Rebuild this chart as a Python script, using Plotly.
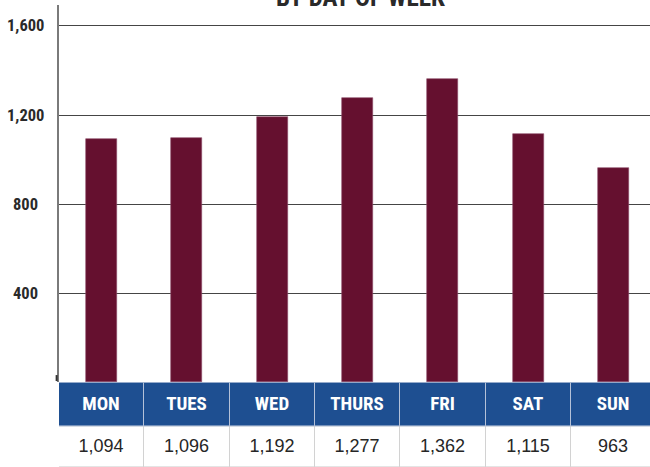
import plotly.graph_objects as go

# data
days = ["MON", "TUES", "WED", "THURS", "FRI", "SAT", "SUN"]
counts = [1094, 1096, 1192, 1277, 1362, 1115, 963]
ytick_vals = [400, 800, 1200, 1600]
title_text = "BY DAY OF WEEK"

condensed = "Roboto Condensed, Open Sans Condensed, sans-serif"
bar_col = "#65102f"
band_col = "#1e4f91"

fig = go.Figure()

# main bars
fig.add_trace(go.Bar(
    x=days, y=counts, xaxis="x", yaxis="y",
    width=0.363,
    marker=dict(color=bar_col, line=dict(color="#8c4a68", width=0.6)),
    showlegend=False, hoverinfo="x+y"))

# table: value row (white) and header row (blue) drawn as full-width bars
fig.add_trace(go.Bar(
    x=days, y=[41] * len(days), base=0, xaxis="x", yaxis="y2",
    width=1,
    marker=dict(color="white", line=dict(color="#d2d2d2", width=1)),
    text=[f"{v:,}" for v in counts], textposition="inside",
    insidetextanchor="middle", textangle=0,
    textfont=dict(family="Liberation Sans, Arial, sans-serif", size=18, color="#262626"),
    showlegend=False, hoverinfo="skip"))
fig.add_trace(go.Bar(
    x=days, y=[44] * len(days), base=41, xaxis="x", yaxis="y2",
    width=1,
    marker=dict(color=band_col, line=dict(color="#b4c1d8", width=1)),
    text=[f"<b>{d}</b>" for d in days], textposition="inside",
    insidetextanchor="middle", textangle=0,
    textfont=dict(family=condensed, size=19, color="white"),
    showlegend=False, hoverinfo="skip"))

# centred y tick labels
annos = [dict(xref="paper", yref="y", x=-0.0567, y=v, text=f"<b>{v:,}</b>",
              showarrow=False, xanchor="center", yanchor="middle",
              font=dict(family=condensed, size=16.5, color="#2a2a2a"))
         for v in ytick_vals]
# title, mostly cut off at the top as in the original
annos.append(dict(xref="paper", yref="paper", x=0.51, y=0.981, text=f"<b>{title_text}</b>",
                  showarrow=False, xanchor="center", yanchor="bottom",
                  font=dict(family=condensed, size=25, color="#2a2a2a")))

fig.update_layout(
    width=650, height=467,
    margin=dict(l=59, r=0, t=5, b=0, autoexpand=False),
    paper_bgcolor="white", plot_bgcolor="white",
    barmode="overlay", bargap=0,
    xaxis=dict(anchor="y2", range=[-0.5, 6.428], showticklabels=False,
               showgrid=False, zeroline=False, showline=False, ticks="",
               fixedrange=True),
    yaxis=dict(domain=[0.1831, 1], anchor="x", range=[0, 1694],
               tickvals=ytick_vals, showticklabels=False, ticks="",
               showgrid=True, gridcolor="#454545", gridwidth=1,
               zeroline=False, showline=True, linecolor="#7a7a7a", linewidth=1.5),
    yaxis2=dict(domain=[0, 0.1831], anchor="x", range=[0, 85],
                showticklabels=False, showgrid=False, zeroline=False,
                showline=False, ticks=""),
    annotations=annos,
)
# little dark stub at the foot of the y axis
fig.add_shape(type="line", xref="paper", yref="paper",
              x0=-0.004, x1=-0.004, y0=0.186, y1=0.199,
              line=dict(color="#333333", width=2))

# drop the browser's default 8px body margin so the chart sits at the corner
fig.write_html("out.html", config={"displayModeBar": False},
               post_script="document.body.style.margin='0';")
